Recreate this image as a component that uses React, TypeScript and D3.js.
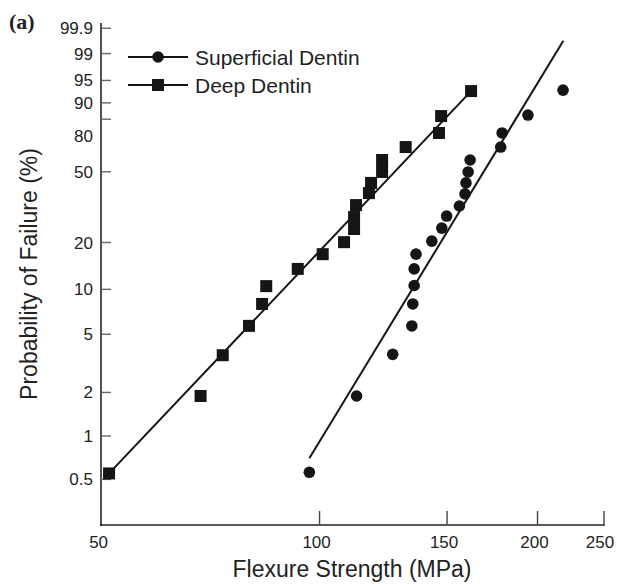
import React from "react";
import * as d3 from "d3";

const superficialStrength = [96.8, 112.5, 126.2, 134.1, 134.5, 135.1, 135.1, 135.9, 142.9, 147.5, 149.8, 156.0, 158.8, 159.3, 160.4, 161.4, 177.9, 178.7, 194.0, 216.9];
const superficialProb = [0.56, 1.89, 3.65, 5.69, 8.0, 10.6, 13.6, 16.9, 20.4, 24.5, 28.9, 33.0, 38.5, 44.0, 49.9, 56.7, 64.3, 72.5, 82.1, 92.3];
const deepStrength = [51.2, 68.5, 73.5, 79.9, 83.3, 84.4, 93.3, 101.0, 108.1, 111.6, 111.6, 112.3, 117.0, 117.8, 122.0, 122.0, 131.5, 146.2, 147.2, 161.9];
const deepProb = [0.55, 1.89, 3.6, 5.7, 8.0, 10.5, 13.6, 16.9, 20.1, 24.2, 28.5, 33.4, 38.9, 44.0, 49.9, 56.7, 64.3, 72.5, 81.6, 92.0];

// fitted lines: [strength, probability] endpoints
const superficialFit = [[96.8, 0.7], [217.1, 99.65]];
const deepFit = [[51.2, 0.55], [161.9, 92.0]];

const yTicks = [0.5, 1, 2, 5, 10, 20, 50, 80, 90, 95, 99, 99.9];
const xTicks = [50, 100, 150, 200, 250];

const weib = (p: number) => Math.log(-Math.log(1 - p / 100));

export default function App() {
  const x = d3.scaleLog().domain([50, 250]).range([101.6, 607.7]);
  const y = d3.scaleLinear().domain([weib(0.5), weib(99.9)]).range([479.4, 28.3]);
  const line = d3
    .line<number[]>()
    .x((d) => x(d[0]))
    .y((d) => y(weib(d[1])));
  const ink = "#151515";
  const font = "'Liberation Sans', Arial, sans-serif";
  const tickShift = (t: number) => (t === 90 ? 6 : 0);
  return (
    <svg width={617} height={584} style={{ position: "absolute", left: 0, top: 0 }} fontFamily={font}>
      <rect width={617} height={584} fill="#fff" />
      {/* axes */}
      <line x1={101} y1={23} x2={101} y2={526} stroke="#505050" strokeWidth={2} />
      <line x1={100} y1={525} x2={605} y2={525} stroke="#222" strokeWidth={1.6} />
      {yTicks.map((t) => {
        const ty = y(weib(t)) + tickShift(t);
        return (
          <g key={t}>
            <line x1={101} x2={111} y1={ty} y2={ty} stroke="#666" strokeWidth={1.4} />
            <text x={93} y={ty + 6 + (t === 80 ? 17 : 0)} textAnchor="end" fontSize={17} fill="#222">
              {String(t)}
            </text>
          </g>
        );
      })}
      {xTicks.map((t) => (
        <g key={t}>
          {t !== 50 && (
            <line x1={Math.min(x(t), 604)} x2={Math.min(x(t), 604)} y1={525} y2={511} stroke="#444" strokeWidth={1.4} />
          )}
          <text x={Math.min(x(t) - 3, 600)} y={548} textAnchor="middle" fontSize={17} fill="#222">
            {String(t)}
          </text>
        </g>
      ))}
      <text x={352} y={577} textAnchor="middle" fontSize={23} fill="#222">
        Flexure Strength (MPa)
      </text>
      <text transform="translate(37,274) rotate(-90)" textAnchor="middle" fontSize={23} fill="#222">
        Probability of Failure (%)
      </text>
      <text x={9} y={29} fontSize={22} fontWeight="bold" fontFamily="'Liberation Serif', 'Times New Roman', serif" fill="#222">
        (a)
      </text>
      {/* fit lines */}
      <path d={line(superficialFit) || ""} fill="none" stroke={ink} strokeWidth={2} />
      <path d={line(deepFit) || ""} fill="none" stroke={ink} strokeWidth={2} />
      {/* markers */}
      {superficialStrength.map((s, i) => (
        <circle key={"s" + i} cx={x(s)} cy={y(weib(superficialProb[i]))} r={5.8} fill={ink} />
      ))}
      {deepStrength.map((s, i) => (
        <rect key={"d" + i} x={x(s) - 6} y={y(weib(deepProb[i])) - 6} width={12} height={12} fill={ink} />
      ))}
      {/* legend */}
      <line x1={128} x2={188} y1={57} y2={57} stroke={ink} strokeWidth={2} />
      <circle cx={158} cy={57} r={5.8} fill={ink} />
      <text x={195} y={65} fontSize={21} fill="#222">
        Superficial Dentin
      </text>
      <line x1={128} x2={188} y1={85} y2={85} stroke={ink} strokeWidth={2} />
      <rect x={152} y={79} width={12} height={12} fill={ink} />
      <text x={195} y={93} fontSize={21} fill="#222">
        Deep Dentin
      </text>
    </svg>
  );
}
